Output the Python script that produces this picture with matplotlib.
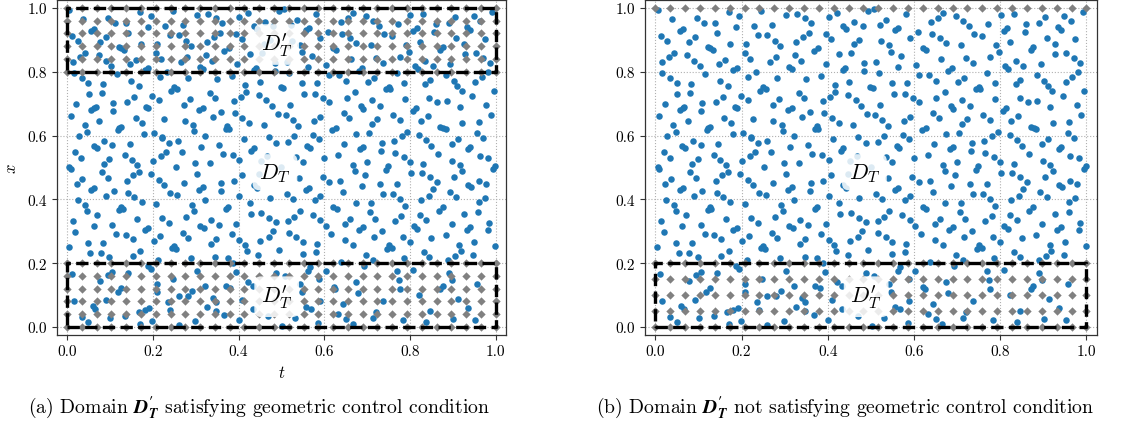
import numpy as np
import matplotlib
matplotlib.use("Agg")
import matplotlib.pyplot as plt

plt.rcParams.update({
    "font.family": "serif",
    "font.serif": ["cmr10", "DejaVu Serif"],
    "mathtext.fontset": "cm",
    "axes.formatter.use_mathtext": True,
    "axes.unicode_minus": False,
})

# ---- collocation points (t, x), by horizontal band ----
band_080_100 = [
    (0.005,0.994),(0.038,0.964),(0.012,0.913),(0.026,0.897),(0.057,0.926),(0.063,0.934),(0.015,0.831),(0.031,0.846),
    (0.043,0.860),(0.078,0.892),(0.092,0.910),(0.096,0.968),(0.113,0.951),(0.074,0.851),(0.090,0.834),(0.103,0.818),
    (0.122,0.876),(0.127,0.873),(0.133,0.869),(0.138,0.954),(0.143,0.921),(0.148,0.823),(0.161,0.837),(0.171,0.987),
    (0.195,0.973),(0.188,0.939),(0.173,0.888),(0.181,0.804),(0.190,0.811),
    (0.246,0.990),(0.229,0.944),(0.239,0.915),(0.260,0.914),(0.271,0.946),(0.210,0.887),(0.207,0.857),(0.220,0.840),
    (0.277,0.897),(0.289,0.880),(0.303,0.979),(0.328,0.981),(0.347,0.968),(0.362,0.952),(0.356,0.922),(0.343,0.908),
    (0.327,0.893),(0.265,0.830),(0.280,0.847),(0.323,0.851),(0.339,0.835),(0.309,0.814),(0.317,0.807),(0.234,0.800),
    (0.367,0.864),(0.378,0.874),(0.395,0.919),(0.407,0.903),(0.402,0.970),(0.397,0.824),
    (0.422,0.985),(0.436,0.942),(0.443,0.933),(0.461,0.956),(0.481,0.944),(0.494,0.990),(0.507,0.995),(0.460,0.886),
    (0.473,0.900),(0.426,0.854),(0.455,0.859),(0.435,0.805),(0.440,0.811),(0.484,0.826),(0.512,0.830),(0.484,0.801),
    (0.518,0.797),(0.522,0.947),(0.536,0.962),(0.524,0.895),(0.543,0.885),(0.547,0.862),(0.557,0.930),(0.564,0.937),
    (0.581,0.981),(0.590,0.907),(0.571,0.849),(0.562,0.816),
    (0.604,0.821),(0.609,0.923),(0.621,0.875),(0.627,0.867),(0.639,0.955),(0.655,0.969),(0.668,0.984),(0.641,0.918),
    (0.660,0.906),(0.674,0.889),(0.662,0.839),(0.698,0.975),(0.714,0.958),(0.727,0.942),(0.740,0.917),(0.757,0.911),
    (0.708,0.884),(0.721,0.844),(0.737,0.827),(0.680,0.801),(0.688,0.810),(0.772,0.948),(0.791,0.882),(0.797,0.861),
    (0.777,0.845),
    (0.801,0.977),(0.831,0.981),(0.808,0.927),(0.816,0.937),(0.823,0.892),(0.860,0.949),(0.857,0.924),(0.871,0.867),
    (0.876,0.877),(0.836,0.833),(0.854,0.819),(0.812,0.819),(0.819,0.809),(0.894,0.823),(0.890,0.954),(0.905,0.972),
    (0.908,0.906),(0.926,0.888),(0.928,0.855),(0.953,0.857),(0.933,0.940),(0.941,0.932),(0.949,0.974),(0.964,0.959),
    (0.974,0.902),(0.971,0.843),(0.986,0.828),(0.992,0.988),(0.981,0.800),
]
band_060_080 = [
    (0.016,0.795),(0.035,0.779),(0.050,0.766),(0.116,0.794),(0.083,0.760),(0.081,0.734),(0.051,0.729),(0.022,0.700),
    (0.009,0.662),(0.057,0.680),(0.063,0.685),(0.067,0.688),(0.108,0.701),(0.107,0.676),(0.042,0.633),(0.047,0.612),
    (0.075,0.644),(0.028,0.597),(0.119,0.618),(0.122,0.624),(0.126,0.628),(0.140,0.706),(0.156,0.722),(0.149,0.771),
    (0.168,0.756),(0.160,0.656),(0.176,0.639),(0.179,0.606),(0.184,0.690),(0.190,0.685),(0.198,0.725),(0.204,0.607),
    (0.216,0.782),(0.214,0.711),(0.226,0.652),(0.222,0.595),(0.243,0.740),(0.250,0.753),(0.257,0.746),(0.283,0.780),
    (0.287,0.713),(0.273,0.697),(0.307,0.680),(0.316,0.687),(0.274,0.647),(0.293,0.632),(0.296,0.615),(0.321,0.599),
    (0.333,0.734),(0.344,0.716),(0.350,0.776),(0.340,0.659),(0.359,0.675),(0.371,0.619),(0.374,0.629),(0.378,0.619),
    (0.385,0.787),(0.390,0.708),(0.391,0.669),(0.406,0.721),(0.417,0.735),(0.416,0.759),(0.409,0.655),(0.425,0.640),
    (0.450,0.768),(0.448,0.726),(0.465,0.710),(0.477,0.693),(0.491,0.667),(0.510,0.664),(0.499,0.753),(0.504,0.748),
    (0.520,0.697),(0.459,0.633),(0.471,0.595),(0.526,0.648),(0.539,0.631),(0.548,0.763),(0.553,0.731),(0.584,0.763),
    (0.579,0.731),(0.598,0.718),(0.611,0.704),(0.591,0.658),(0.576,0.645),(0.574,0.601),(0.530,0.598),(0.618,0.616),
    (0.628,0.625),(0.612,0.789),(0.635,0.789),(0.650,0.772),(0.671,0.737),(0.652,0.719),(0.645,0.672),(0.657,0.654),
    (0.674,0.604),(0.686,0.693),(0.691,0.684),(0.703,0.768),(0.717,0.779),(0.712,0.710),(0.730,0.694),(0.723,0.652),
    (0.711,0.635),(0.705,0.609),(0.744,0.745),(0.750,0.752),(0.754,0.745),(0.770,0.795),(0.787,0.764),(0.788,0.715),
    (0.761,0.663),(0.777,0.649),(0.781,0.597),(0.794,0.611),(0.807,0.677),(0.813,0.685),(0.836,0.760),(0.847,0.774),
    (0.845,0.718),(0.864,0.704),(0.842,0.662),(0.825,0.644),(0.822,0.602),(0.871,0.627),(0.878,0.624),(0.883,0.621),
    (0.885,0.789),(0.902,0.771),(0.910,0.755),(0.921,0.739),(0.886,0.707),(0.916,0.690),(0.922,0.638),(0.952,0.768),
    (0.967,0.782),(0.995,0.741),(0.945,0.723),(0.978,0.695),(0.988,0.665),(0.960,0.641),(0.957,0.608),
]
band_040_060 = [
    (0.062,0.567),(0.069,0.561),(0.087,0.584),(0.105,0.570),(0.146,0.573),(0.019,0.547),(0.033,0.530),(0.005,0.502),
    (0.009,0.496),(0.086,0.511),(0.099,0.525),(0.136,0.539),(0.151,0.523),(0.164,0.507),(0.169,0.487),(0.155,0.475),
    (0.140,0.457),(0.081,0.485),(0.095,0.467),(0.036,0.463),(0.023,0.449),(0.057,0.430),(0.064,0.436),(0.109,0.426),
    (0.090,0.410),(0.142,0.421),(0.157,0.408),(0.025,0.399),(0.200,0.519),(0.219,0.535),(0.232,0.549),(0.221,0.592),
    (0.237,0.578),(0.258,0.582),(0.196,0.478),(0.215,0.461),(0.227,0.445),(0.253,0.501),(0.272,0.450),(0.268,0.547),
    (0.240,0.420),(0.257,0.415),(0.298,0.514),(0.302,0.479),(0.312,0.565),(0.334,0.513),(0.354,0.571),(0.364,0.542),
    (0.386,0.538),(0.402,0.524),(0.360,0.450),(0.358,0.426),(0.390,0.457),(0.407,0.475),(0.307,0.429),(0.317,0.438),
    (0.322,0.397),(0.430,0.553),(0.436,0.561),(0.488,0.576),(0.467,0.536),(0.452,0.519),(0.448,0.478),(0.435,0.444),
    (0.443,0.434),(0.473,0.405),(0.412,0.590),(0.402,0.409),
    (0.516,0.581),(0.588,0.588),(0.560,0.567),(0.566,0.560),(0.534,0.533),(0.550,0.516),(0.599,0.530),(0.500,0.501),
    (0.540,0.466),(0.596,0.470),(0.564,0.436),(0.557,0.429),(0.512,0.416),(0.526,0.400),(0.591,0.412),(0.578,0.397),
    (0.612,0.454),(0.637,0.456),(0.643,0.424),(0.633,0.538),(0.647,0.574),(0.684,0.558),(0.691,0.564),(0.667,0.508),
    (0.671,0.489),(0.700,0.518),(0.695,0.476),(0.687,0.443),(0.730,0.447),(0.738,0.418),(0.735,0.576),(0.732,0.551),
    (0.749,0.504),(0.745,0.492),(0.763,0.582),(0.765,0.545),(0.785,0.532),(0.769,0.449),(0.760,0.418),(0.777,0.400),
    (0.800,0.516),(0.803,0.483),(0.838,0.585),(0.850,0.568),(0.866,0.543),(0.831,0.512),(0.828,0.483),(0.847,0.471),
    (0.862,0.454),(0.853,0.431),(0.844,0.411),(0.826,0.398),(0.897,0.572),(0.911,0.590),(0.899,0.521),(0.916,0.508),
    (0.903,0.470),(0.922,0.490),(0.893,0.423),(0.908,0.408),(0.936,0.559),(0.941,0.564),(0.971,0.593),(0.963,0.537),
    (0.983,0.529),(0.994,0.495),(0.998,0.506),(0.961,0.459),(0.978,0.447),(0.936,0.445),(0.943,0.438),(0.974,0.403),
]
band_020_040 = [
    (0.174,0.392),(0.043,0.381),(0.047,0.364),(0.013,0.332),(0.019,0.298),(0.004,0.250),(0.048,0.264),(0.054,0.231),
    (0.062,0.316),(0.071,0.350),(0.084,0.262),(0.079,0.233),(0.098,0.219),(0.105,0.320),(0.115,0.290),(0.121,0.366),
    (0.126,0.377),(0.130,0.369),(0.137,0.288),(0.153,0.275),(0.153,0.222),(0.164,0.340),(0.171,0.239),(0.181,0.304),
    (0.189,0.310),(0.202,0.268),(0.208,0.385),(0.212,0.209),(0.218,0.286),(0.222,0.342),(0.238,0.325),(0.245,0.247),
    (0.250,0.254),(0.254,0.246),(0.278,0.346),(0.271,0.296),(0.282,0.279),(0.291,0.382),(0.297,0.363),(0.288,0.216),
    (0.310,0.317),(0.319,0.309),(0.336,0.334),(0.348,0.276),(0.336,0.260),(0.346,0.219),(0.355,0.319),(0.371,0.369),
    (0.376,0.375),(0.385,0.290),(0.395,0.323),(0.376,0.215),(0.402,0.273),(0.415,0.256),(0.420,0.238),(0.426,0.390),
    (0.428,0.355),(0.453,0.358),(0.472,0.343),(0.480,0.300),(0.470,0.283),(0.451,0.270),(0.446,0.225),(0.494,0.241),
    (0.960,0.393),
    (0.488,0.330),(0.516,0.333),(0.530,0.346),(0.543,0.362),(0.517,0.295),(0.535,0.281),(0.550,0.266),(0.573,0.350),
    (0.590,0.336),(0.582,0.260),(0.580,0.234),(0.550,0.229),(0.603,0.318),(0.621,0.376),(0.629,0.371),(0.616,0.292),
    (0.638,0.205),(0.648,0.322),(0.660,0.338),(0.649,0.272),(0.667,0.257),(0.673,0.389),(0.682,0.305),(0.691,0.313),
    (0.698,0.226),(0.706,0.359),(0.709,0.387),(0.718,0.340),(0.715,0.283),(0.713,0.211),(0.734,0.300),(0.747,0.244),
    (0.751,0.256),(0.757,0.248),(0.765,0.331),(0.780,0.348),(0.784,0.282),(0.786,0.216),(0.789,0.380),(0.800,0.265),
    (0.809,0.315),(0.817,0.308),(0.823,0.350),(0.838,0.336),(0.850,0.278),(0.833,0.234),(0.845,0.218),(0.867,0.365),
    (0.876,0.375),(0.883,0.288),(0.897,0.323),(0.889,0.209),(0.926,0.353),(0.915,0.257),(0.918,0.237),(0.906,0.223),
    (0.932,0.305),(0.940,0.313),(0.950,0.267),(0.947,0.226),(0.959,0.361),(0.984,0.325),(0.983,0.303),(0.998,0.254),
]
band_000_020 = [
    (0.011,0.165),(0.095,0.162),(0.106,0.173),(0.143,0.170),(0.188,0.191),(0.195,0.182),(0.304,0.177),(0.393,0.173),
    (0.078,0.144),(0.127,0.123),(0.118,0.111),(0.209,0.135),(0.247,0.150),(0.371,0.128),(0.381,0.122),(0.422,0.140),
    (0.433,0.127),(0.321,0.128),(0.016,0.081),(0.091,0.085),(0.209,0.109),(0.260,0.096),(0.281,0.098),(0.292,0.114),
    (0.341,0.090),(0.347,0.078),(0.409,0.085),(0.060,0.065),(0.066,0.057),(0.181,0.052),(0.191,0.060),(0.235,0.077),
    (0.240,0.052),(0.326,0.062),(0.348,0.049),(0.167,0.047),(0.434,0.057),(0.035,0.031),(0.050,0.015),(0.101,0.028),
    (0.135,0.033),(0.171,0.010),(0.199,0.019),(0.260,0.005),(0.298,0.019),(0.367,0.037),(0.400,0.021),(0.469,0.034),
    (0.388,0.201),
    (0.488,0.170),(0.508,0.161),(0.562,0.177),(0.567,0.187),(0.543,0.135),(0.547,0.111),(0.588,0.149),(0.589,0.082),
    (0.557,0.062),(0.568,0.057),(0.531,0.028),(0.502,0.003),(0.585,0.012),(0.603,0.177),(0.622,0.125),(0.626,0.118),
    (0.643,0.073),(0.633,0.040),(0.650,0.025),(0.666,0.010),(0.675,0.141),(0.678,0.108),(0.692,0.190),(0.721,0.047),
    (0.713,0.029),(0.736,0.080),(0.769,0.175),(0.774,0.146),(0.777,0.119),(0.784,0.021),(0.808,0.180),(0.822,0.099),
    (0.838,0.015),(0.846,0.049),(0.871,0.119),(0.876,0.127),(0.890,0.169),(0.897,0.146),(0.913,0.089),(0.936,0.060),
    (0.901,0.026),(0.952,0.021),(0.957,0.135),
]

# ---- observation grids ----
obs_t = [0.0, 0.0345, 0.0690, 0.1034, 0.1379, 0.1724, 0.2069, 0.2414, 0.2759, 0.3103,
         0.3448, 0.3793, 0.4138, 0.4483, 0.4828, 0.5172, 0.5517, 0.5862, 0.6207, 0.6552,
         0.6897, 0.7241, 0.7586, 0.7931, 0.8276, 0.8621, 0.8966, 0.9310, 0.9655, 1.0]
obs_x_a_bottom = [0.0, 0.04, 0.08, 0.12, 0.16, 0.20]
obs_x_a_top = [0.80, 0.84, 0.88, 0.92, 0.96, 1.00]
obs_x_b_bottom = [0.0, 0.05, 0.10, 0.15, 0.20]
obs_x_b_top = [1.00]

# observation sub-domains D'_T (t0, t1, x0, x1)
regions_a = [(0.0, 1.0, 0.0, 0.2), (0.0, 1.0, 0.8, 1.0)]
regions_b = [(0.0, 1.0, 0.0, 0.2)]

labels_a = [(0.489, 0.885, r"$D_T'$"), (0.485, 0.485, r"$D_T$"), (0.489, 0.095, r"$D_T'$")]
labels_b = [(0.485, 0.485, r"$D_T$"), (0.489, 0.095, r"$D_T'$")]

ticks = [0.0, 0.2, 0.4, 0.6, 0.8, 1.0]
captions = [r"(a) Domain $\mathbfit{D}^{\mathbf{\prime}}_{\mathbfit{T}}$ satisfying geometric control condition",
            r"(b) Domain $\mathbfit{D}^{\mathbf{\prime}}_{\mathbfit{T}}$ not satisfying geometric control condition"]

pts = np.array(band_080_100 + band_060_080 + band_040_060 + band_020_040 + band_000_020)

fig = plt.figure(figsize=(11.37, 4.27), dpi=100)
ax_a = fig.add_axes([0.0499, 0.2131, 0.3952, 0.7849])
ax_b = fig.add_axes([0.5673, 0.2131, 0.3973, 0.7849])


def grid_pts(tv, xv):
    T, X = np.meshgrid(tv, xv)
    return T.ravel(), X.ravel()


def draw(ax, obs_rows, regions, labels):
    ax.scatter(pts[:, 0], pts[:, 1], s=22, color="#1f77b4", linewidths=0, zorder=2)
    for rows in obs_rows:
        gt, gx = grid_pts(obs_t, rows)
        ax.scatter(gt, gx, s=18, marker="D", color="#808080", linewidths=0, zorder=3)
    for (t0, t1, x0, x1) in regions:
        ax.plot([t0, t1, t1, t0, t0], [x0, x0, x1, x1, x0], color="black", lw=2.4,
                ls="--", zorder=4, solid_joinstyle="miter", dash_capstyle="butt")
    for (tt, xx, s) in labels:
        ax.text(tt, xx, s, fontsize=16, ha="center", va="center", zorder=5,
                bbox=dict(boxstyle="round,pad=0.3", facecolor="white", alpha=0.85, edgecolor="none"))
    ax.set_xlim(-0.024, 1.024)
    ax.set_ylim(-0.025, 1.025)
    ax.set_xticks(ticks)
    ax.set_yticks(ticks)
    ax.set_xticklabels([f"{v:.1f}" for v in ticks])
    ax.set_yticklabels([f"{v:.1f}" for v in ticks])
    ax.grid(True, ls=":", color="#b0b0b0", lw=0.8, zorder=0)
    ax.set_axisbelow(True)
    ax.tick_params(labelsize=11, length=3.5, width=0.8, color="#333333")
    for sp in ax.spines.values():
        sp.set_color("#333333")
        sp.set_linewidth(0.9)


draw(ax_a, [obs_x_a_bottom, obs_x_a_top], regions_a, labels_a)
draw(ax_b, [obs_x_b_bottom, obs_x_b_top], regions_b, labels_b)

ax_a.set_xlabel(r"$t$", fontsize=12, labelpad=4)
ax_a.set_ylabel(r"$x$", fontsize=12, labelpad=6)

fig.text(0.2275, 0.045, captions[0], fontsize=14.2, ha="center", va="center", math_fontfamily="stix")
fig.text(0.7432, 0.045, captions[1], fontsize=14.2, ha="center", va="center", math_fontfamily="stix")

fig.savefig("out.png", dpi=100, facecolor="white")
